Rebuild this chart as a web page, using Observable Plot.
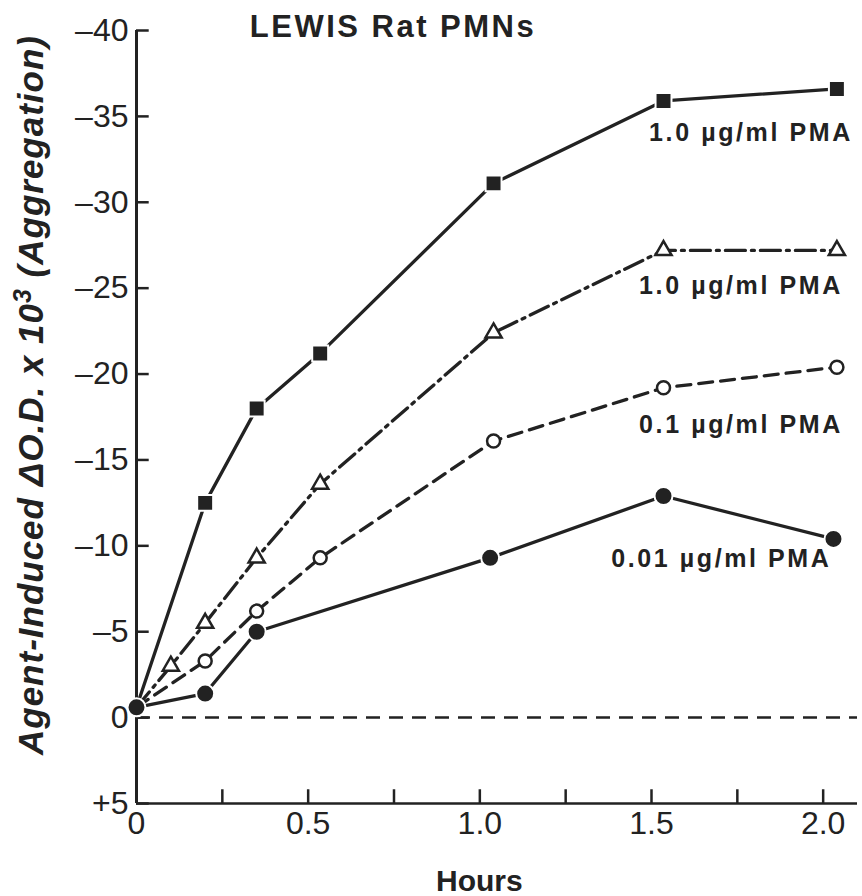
<!DOCTYPE html>
<html>
<head>
<meta charset="utf-8">
<script src="https://cdn.jsdelivr.net/npm/d3@7"></script>
<script src="https://cdn.jsdelivr.net/npm/@observablehq/plot@0.6"></script>
<style>
  body { margin: 0; background: #fff; }
  #chart { width: 862px; height: 896px; }
</style>
</head>
<body>
<div id="chart"></div>
<script>
// ---- data ----
const hoursSquare   = [0, 0.2, 0.35, 0.535, 1.04, 1.535, 2.04];
const valuesSquare  = [-0.6, -12.5, -18.0, -21.2, -31.1, -35.9, -36.6];

const hoursTriangle  = [0, 0.1, 0.2, 0.35, 0.535, 1.04, 1.535, 2.04];
const valuesTriangle = [-0.6, -3.0, -5.5, -9.3, -13.6, -22.4, -27.2, -27.2];

const hoursOpen  = [0, 0.2, 0.35, 0.535, 1.04, 1.535, 2.04];
const valuesOpen = [-0.6, -3.3, -6.2, -9.3, -16.1, -19.2, -20.4];

const hoursFilled  = [0, 0.2, 0.35, 1.03, 1.535, 2.03];
const valuesFilled = [-0.6, -1.4, -5.0, -9.3, -12.9, -10.4];

const seriesLabels = ["1.0 \u00b5g/ml PMA", "1.0 \u00b5g/ml PMA", "0.1 \u00b5g/ml PMA", "0.01 \u00b5g/ml PMA"];
const yTicks = [-40, -35, -30, -25, -20, -15, -10, -5, 0, 5];
const xLabelTicks = [0, 0.5, 1.0, 1.5, 2.0];
const xMinorTicks = [0.25, 0.5, 0.75, 1.0, 1.25, 1.5, 1.75, 2.0];
const titleText = "LEWIS Rat PMNs";
const xLabelText = "Hours";

// ---- build ----
const ink = "#222";
const rows = (xs, ys) => xs.map((x, i) => ({x, y: ys[i]}));
const sq = rows(hoursSquare, valuesSquare);
const tri = rows(hoursTriangle, valuesTriangle);
const open = rows(hoursOpen, valuesOpen);
const filled = rows(hoursFilled, valuesFilled);
const last = a => [a[a.length - 1]];
const fmtY = d => d > 0 ? "+" + d : d < 0 ? "\u2013" + (-d) : "0";
const fmtX = d => d === 0 ? "0" : d.toFixed(1);
const labelStyle = {textAnchor: "end", fontSize: 25, fontWeight: "bold", fill: ink};

const plot = Plot.plot({
  width: 862,
  height: 896,
  marginLeft: 136,
  marginRight: 5,
  marginTop: 30,
  marginBottom: 93,
  x: {domain: [0, 2.1]},
  y: {domain: [5, -40]},
  style: {fontFamily: "'Liberation Sans', Arial, sans-serif", fontSize: "32px", color: ink, background: "white"},
  marks: [
    Plot.ruleY([0], {stroke: ink, strokeWidth: 2.5, strokeDasharray: "14,9"}),
    Plot.ruleX([0], {y1: 5, y2: -40, stroke: ink, strokeWidth: 3}),
    Plot.ruleY([5], {stroke: ink, strokeWidth: 2.5}),
    Plot.ruleY(yTicks, {x1: 0, x2: 0.037, stroke: ink, strokeWidth: 2.5}),
    Plot.ruleX(xMinorTicks, {y1: 5, y2: 4.2, stroke: ink, strokeWidth: 2.5}),
    Plot.axisY({ticks: yTicks, tickSize: 0, tickPadding: 8, tickFormat: fmtY, fontSize: 32, label: null}),
    Plot.axisX({ticks: xLabelTicks, tickSize: 0, tickPadding: 8, tickFormat: fmtX, fontSize: 32, label: null}),

    Plot.line(open, {x: "x", y: "y", stroke: ink, strokeWidth: 3.3, strokeDasharray: "14,8"}),
    Plot.line(tri, {x: "x", y: "y", stroke: ink, strokeWidth: 3.3, strokeDasharray: "20,6,3,6"}),
    Plot.line(filled, {x: "x", y: "y", stroke: ink, strokeWidth: 3.3}),
    Plot.line(sq, {x: "x", y: "y", stroke: ink, strokeWidth: 3.3}),

    Plot.dot(open.slice(1), {x: "x", y: "y", r: 6.5, fill: "white", stroke: ink, strokeWidth: 2.5}),
    Plot.dot(tri.slice(1), {x: "x", y: "y", r: 6, symbol: "triangle", fill: "white", stroke: ink, strokeWidth: 2.5}),
    Plot.dot(filled, {x: "x", y: "y", r: 9, fill: ink, stroke: "white", strokeWidth: 2}),
    Plot.dot(sq.slice(1), {x: "x", y: "y", r: 9, symbol: "square", fill: ink, stroke: "white", strokeWidth: 2}),

    Plot.text(last(sq), {x: "x", y: "y", text: () => seriesLabels[0], dx: 16, dy: 44, ...labelStyle}),
    Plot.text(last(tri), {x: "x", y: "y", text: () => seriesLabels[1], dx: 6, dy: 36, ...labelStyle}),
    Plot.text(last(open), {x: "x", y: "y", text: () => seriesLabels[2], dx: 6, dy: 58, ...labelStyle}),
    Plot.text(last(filled), {x: "x", y: "y", text: () => seriesLabels[3], dx: -2, dy: 20, ...labelStyle})
  ]
});

document.getElementById("chart").appendChild(plot);

const svg = d3.select(plot);
// widen the series labels (letter spacing as in the reference)
svg.selectAll("text").filter(function () {
  return seriesLabels.includes(this.textContent);
}).style("letter-spacing", "2.6px");

const xs = plot.scale("x");
// title
svg.append("text")
  .attr("x", 393).attr("y", 37)
  .attr("text-anchor", "middle")
  .attr("font-family", "'Liberation Sans', Arial, sans-serif")
  .attr("font-size", 31).attr("font-weight", "bold")
  .style("letter-spacing", "2.5px")
  .attr("fill", ink)
  .text(titleText);

// x-axis title
svg.append("text")
  .attr("x", xs.apply(1.0)).attr("y", 891)
  .attr("text-anchor", "middle")
  .attr("font-family", "'Liberation Sans', Arial, sans-serif")
  .attr("font-size", 30).attr("font-weight", "bold")
  .attr("fill", ink)
  .text(xLabelText);

// y-axis title
const yl = svg.append("text")
  .attr("transform", "translate(43,395) rotate(-90)")
  .attr("text-anchor", "middle")
  .attr("font-family", "'Liberation Sans', Arial, sans-serif")
  .attr("font-size", 35).attr("font-weight", "bold").attr("font-style", "italic")
  .style("letter-spacing", "1px")
  .attr("fill", ink);
yl.append("tspan").text("Agent-Induced \u0394O.D. x 10");
yl.append("tspan").attr("dy", -12).attr("font-size", 25).text("3");
yl.append("tspan").attr("dy", 12).text(" (Aggregation)");
</script>
</body>
</html>
